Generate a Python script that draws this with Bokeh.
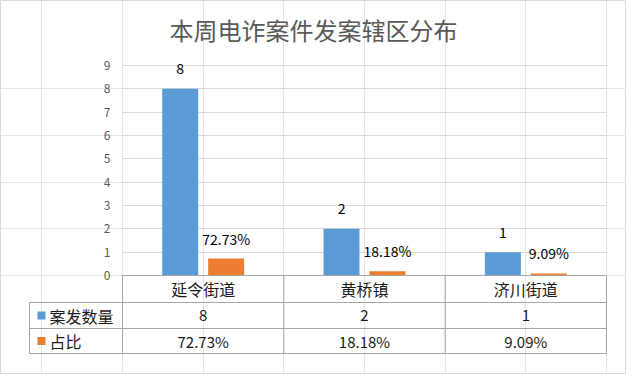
from bokeh.plotting import figure
from bokeh.models import Range1d, LinearAxis, FixedTicker, Grid, ColumnDataSource
from bokeh.core.properties import value
from bokeh.embed import file_html
from bokeh.resources import INLINE

# ---- data ----
title = "本周电诈案件发案辖区分布"
categories = ["延令街道", "黄桥镇", "济川街道"]
series_names = ["案发数量", "占比"]
counts = [8, 2, 1]
percents = [72.73, 18.18, 9.09]
y_ticks = [0, 1, 2, 3, 4, 5, 6, 7, 8, 9]

FONT = value("Noto Sans CJK SC")
BLUE = "#5b9bd5"
ORANGE = "#ed7d31"
LINE = "#a6a6a6"

# chart box (reference pixels): left 5, top 6, right 631, bottom 380
BOX_L, BOX_T = 5, 6
W, H = 626, 374
px_x = 161.33            # px per category
px_y = 210 / 9.0         # px per y unit
CX0 = 207.67             # px of category 0 centre
CY0 = 281                # px of value 0


def X(px):
    return (px - CX0) / px_x


def Y(px):
    return (CY0 - px) / px_y


p = figure(width=W, height=H, output_backend="svg", toolbar_location=None,
           x_axis_location=None, y_axis_location=None,
           min_border_left=0, min_border_right=0, min_border_top=0, min_border_bottom=0,
           x_range=Range1d(X(BOX_L), X(BOX_L + W)),
           y_range=Range1d(Y(BOX_T + H), Y(BOX_T)))
p.outline_line_color = "#d9d9d9"
p.background_fill_color = "white"
p.border_fill_color = "white"

n = len(categories)
xs = list(range(n))

# y axis placed at the left edge of the plot area
yaxis = LinearAxis(fixed_location=-0.5, ticker=FixedTicker(ticks=y_ticks), bounds=(0, 9))
yaxis.axis_line_color = None
yaxis.major_tick_line_color = None
yaxis.minor_tick_line_color = None
yaxis.major_label_standoff = 6
yaxis.major_label_text_font_size = "12px"
yaxis.major_label_text_color = "#595959"
yaxis.major_label_text_font = "Noto Sans CJK SC"
p.add_layout(yaxis, "left")

grid = Grid(dimension=1, ticker=yaxis.ticker, bounds=(1, 9), cross_bounds=(-0.5, n - 0.5),
            grid_line_color="#d9d9d9")
p.add_layout(grid)

bw = 0.223
off = 0.1425
src = ColumnDataSource(dict(
    xb=[x - off for x in xs], xo=[x + off for x in xs],
    counts=counts, ratio=[v / 100.0 for v in percents],
    clab=[str(c) for c in counts], plab=["%.2f%%" % v for v in percents],
))
p.vbar(x="xb", top="counts", width=bw, source=src, fill_color=BLUE, line_color=None)
p.vbar(x="xo", top="ratio", width=bw, source=src, fill_color=ORANGE, line_color=None)

p.text(x="xb", y="counts", text="clab", source=src, text_align="center", text_baseline="middle",
       y_offset=-20, text_font=FONT, text_font_size="14px", text_color="#000000")
p.text(x="xo", y="ratio", text="plab", source=src, text_align="center", text_baseline="middle",
       y_offset=-20, text_font=FONT, text_font_size="14px", text_color="#000000")

# ---- data table ----
r1, r2, r3 = Y(308), Y(334), Y(359)
xl = X(34)
p.segment(x0=[-0.5, xl, xl, xl], y0=[0, r1, r2, r3], x1=[n - 0.5] * 4, y1=[0, r1, r2, r3],
          line_color=LINE, line_width=1)
vx = [xl] + [i - 0.5 for i in range(n + 1)]
p.segment(x0=vx, y0=[r1] + [0] * (n + 1), x1=vx, y1=[r3] * (n + 2), line_color=LINE, line_width=1)

p.text(x=xs, y=[r1 / 2] * n, text=categories, text_align="center", text_baseline="middle",
       text_font=FONT, text_font_size="16px", text_color="#1a1a1a")
p.text(x=xs, y=[(r1 + r2) / 2] * n, text=[str(c) for c in counts], text_align="center",
       text_baseline="middle", text_font=FONT, text_font_size="15px", text_color="#1a1a1a")
p.text(x=xs, y=[(r2 + r3) / 2] * n, text=["%.2f%%" % v for v in percents], text_align="center",
       text_baseline="middle", text_font=FONT, text_font_size="15px", text_color="#1a1a1a")

# legend keys in the table
ky = [(r1 + r2) / 2, (r2 + r3) / 2]
p.scatter(x=[X(46), X(46)], y=ky, marker="square", size=8, fill_color=[BLUE, ORANGE], line_color=None)
p.text(x=[X(54), X(54)], y=ky, text=series_names, text_align="left", text_baseline="middle",
       text_font=FONT, text_font_size="16px", text_color="#1a1a1a")

# title
p.text(x=[X(318)], y=[Y(35)], text=[title], text_align="center",
       text_baseline="middle", text_font=FONT, text_font_size="24px", text_color="#595959")

open("out.html", "w").write(file_html(p, INLINE))
